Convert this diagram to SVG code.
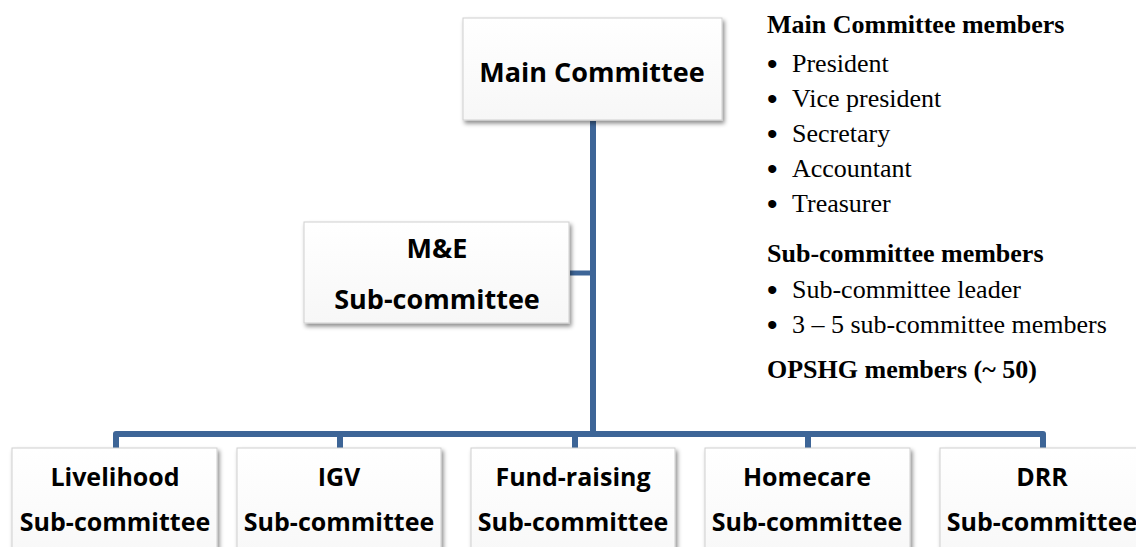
<svg xmlns="http://www.w3.org/2000/svg" width="1136" height="547" viewBox="0 0 1136 547">
<defs>
<filter id="sh" x="-10%" y="-10%" width="125%" height="130%">
<feDropShadow dx="2" dy="3" stdDeviation="2" flood-color="#000" flood-opacity="0.45"/>
</filter>
<linearGradient id="bg" x1="0" y1="0" x2="0" y2="1">
<stop offset="0" stop-color="#ffffff"/>
<stop offset="1" stop-color="#f7f7f7"/>
</linearGradient>
</defs>
<style>
.box{fill:url(#bg);stroke:#cfcfcf;stroke-width:1;filter:url(#sh)}
.bt{font-family:"Open Sans","Liberation Sans",sans-serif;font-weight:bold;fill:#000;text-anchor:middle}
.big{font-size:27px}
.small{font-size:25px}
.conn{fill:none;stroke:#3d6597;stroke-width:6;stroke-linejoin:round}
.side{font-family:"Liberation Serif","Times New Roman",serif;font-size:26px;fill:#000}
.hd{font-weight:bold}
.bul{font-family:"Liberation Sans",Arial,sans-serif;font-size:30px;fill:#000}
</style>
<rect width="1136" height="547" fill="#fff"/>
<g id="connectors">
<path class="conn" d="M593,121 V434"/>
<path class="conn" d="M570,273 H593" style="stroke-width:5"/>
<path class="conn" d="M116,448 V434 H1043 V448"/>
<path class="conn" d="M340,434 V448"/>
<path class="conn" d="M575,434 V448"/>
<path class="conn" d="M808,434 V448"/>
</g>
<g id="main">
<rect class="box" x="463" y="18" width="259" height="102"/>
<text class="bt big" x="592" y="82">Main Committee</text>
</g>
<g id="me">
<rect class="box" x="304" y="222" width="265" height="101"/>
<text class="bt big" x="437" y="258">M&amp;E</text>
<text class="bt big" x="437" y="309">Sub-committee</text>
</g>
<g id="livelihood">
<rect class="box" x="12" y="448" width="205" height="120"/>
<text class="bt small" x="115" y="486">Livelihood</text>
<text class="bt small" x="115" y="531">Sub-committee</text>
</g>
<g id="igv">
<rect class="box" x="237" y="448" width="204" height="120"/>
<text class="bt small" x="339" y="486">IGV</text>
<text class="bt small" x="339" y="531">Sub-committee</text>
</g>
<g id="fundraising">
<rect class="box" x="471" y="448" width="204" height="120"/>
<text class="bt small" x="573" y="486">Fund-raising</text>
<text class="bt small" x="573" y="531">Sub-committee</text>
</g>
<g id="homecare">
<rect class="box" x="705" y="448" width="205" height="120"/>
<text class="bt small" x="807" y="486">Homecare</text>
<text class="bt small" x="807" y="531">Sub-committee</text>
</g>
<g id="drr">
<rect class="box" x="940" y="448" width="205" height="120"/>
<text class="bt small" x="1042" y="486">DRR</text>
<text class="bt small" x="1042" y="531">Sub-committee</text>
</g>
<g id="legend">
<text class="side hd" x="767" y="33">Main Committee members</text>
<text class="bul" x="767" y="74">•</text><text class="side" x="792" y="72">President</text>
<text class="bul" x="767" y="109">•</text><text class="side" x="792" y="107">Vice president</text>
<text class="bul" x="767" y="144">•</text><text class="side" x="792" y="142">Secretary</text>
<text class="bul" x="767" y="179">•</text><text class="side" x="792" y="177">Accountant</text>
<text class="bul" x="767" y="214">•</text><text class="side" x="792" y="212">Treasurer</text>
<text class="side hd" x="767" y="262">Sub-committee members</text>
<text class="bul" x="767" y="300">•</text><text class="side" x="792" y="298">Sub-committee leader</text>
<text class="bul" x="767" y="335">•</text><text class="side" x="792" y="333">3 – 5 sub-committee members</text>
<text class="side hd" x="767" y="378">OPSHG members (~ 50)</text>
</g>
</svg>
